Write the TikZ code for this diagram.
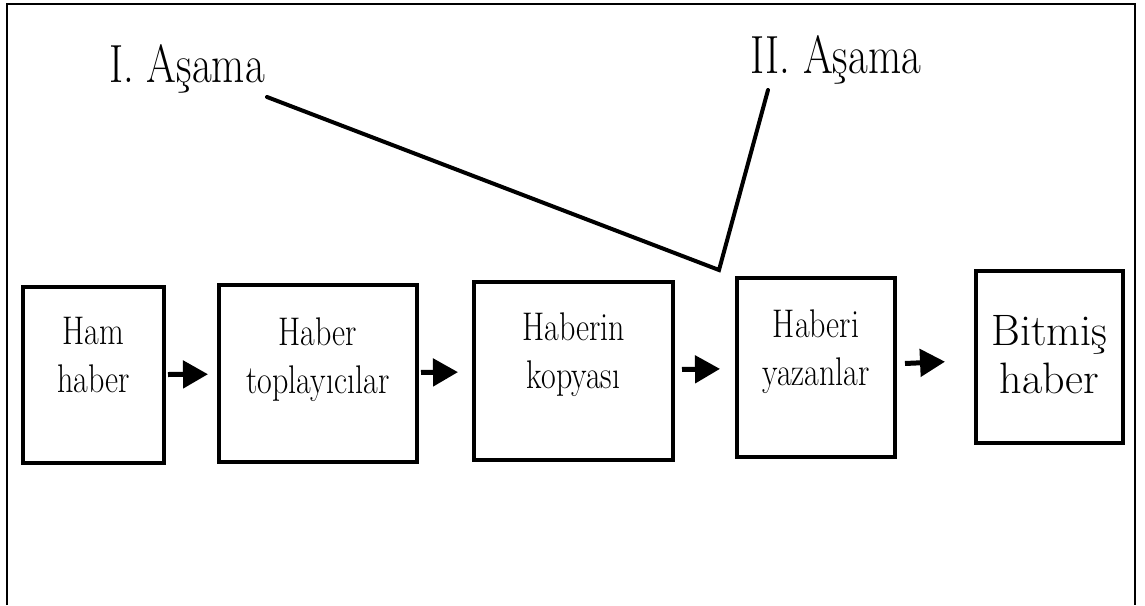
\documentclass[tikz,border=0pt]{standalone}
\usepackage{graphicx}
\usetikzlibrary{arrows.meta}

\newcommand{\tallword}[1]{\scalebox{1}[1.25]{#1}}

\begin{document}
\begin{tikzpicture}[
  x=1pt, y=-1pt,
  newsbox/.style = {draw, line width=3.5pt, inner sep=0pt},
  newstext/.style = {anchor=north, align=center, inner sep=0pt, font=\fontsize{32}{48}\selectfont},
  endtext/.style = {anchor=north, align=center, inner sep=0pt, font=\fontsize{44}{48}\selectfont},
  stage/.style = {anchor=base, inner sep=0pt, font=\fontsize{43}{50}\selectfont},
  flow/.style = {-{Triangle[length=25pt, width=27pt]}, line width=5pt},
  pointer/.style = {line width=4pt, line cap=round}
]
  \useasboundingbox (0,0) rectangle (1145,605);
  \draw[line width=2.5pt] (7,605) -- (7,4) -- (1135,4) -- (1135,605);

  \node[newsbox, minimum width=141pt, minimum height=176pt] (ham) at (93.5,375) {};
  \node[newsbox, minimum width=198pt, minimum height=177pt] (toplayici) at (318,373.5) {};
  \node[newsbox, minimum width=199pt, minimum height=178pt] (kopya) at (573.5,371) {};
  \node[newsbox, minimum width=158pt, minimum height=179pt] (yazan) at (816,367.5) {};
  \node[newsbox, minimum width=147pt, minimum height=172pt] (bitmis) at (1049.5,357) {};

  \node[newstext] (hamtext) at ([yshift=-32pt]ham.north) {\tallword{Ham}\\\tallword{haber}};
  \node[newstext] (toplayicitext) at ([yshift=-34pt]toplayici.north) {\tallword{Haber}\\\tallword{toplayıcılar}};
  \node[newstext] (kopyatext) at ([yshift=-32pt]kopya.north) {\tallword{Haberin}\\\tallword{kopyası}};
  \node[newstext] (yazantext) at ([yshift=-33pt]yazan.north) {\tallword{Haberi}\\\tallword{yazanlar}};
  \node[endtext] (bitmistext) at ([yshift=-46pt]bitmis.north) {Bitmiş\\haber};

  \draw[flow, shorten <=2.25pt, shorten >=9.25pt] (ham) -- (toplayici);
  \draw[flow, shorten <=2.25pt, shorten >=14.25pt] (toplayici) -- (kopya);
  \draw[flow, shorten <=7.25pt, shorten >=15.25pt] (kopya) -- (yazan);
  \draw[flow, shorten <=8.25pt, shorten >=29.25pt] (yazan) -- (bitmis);

  \node[stage] (asamabir) at (187,82) {\tallword{I. Aşama}};
  \node[stage] (asamaiki) at (835.5,73) {\tallword{II. Aşama}};

  \coordinate (birayak) at (267,97);
  \coordinate (ikiayak) at (768,90);
  \coordinate (tepe) at (719,270);
  \draw[pointer] (birayak) -- (tepe) -- (ikiayak);
\end{tikzpicture}
\end{document}
